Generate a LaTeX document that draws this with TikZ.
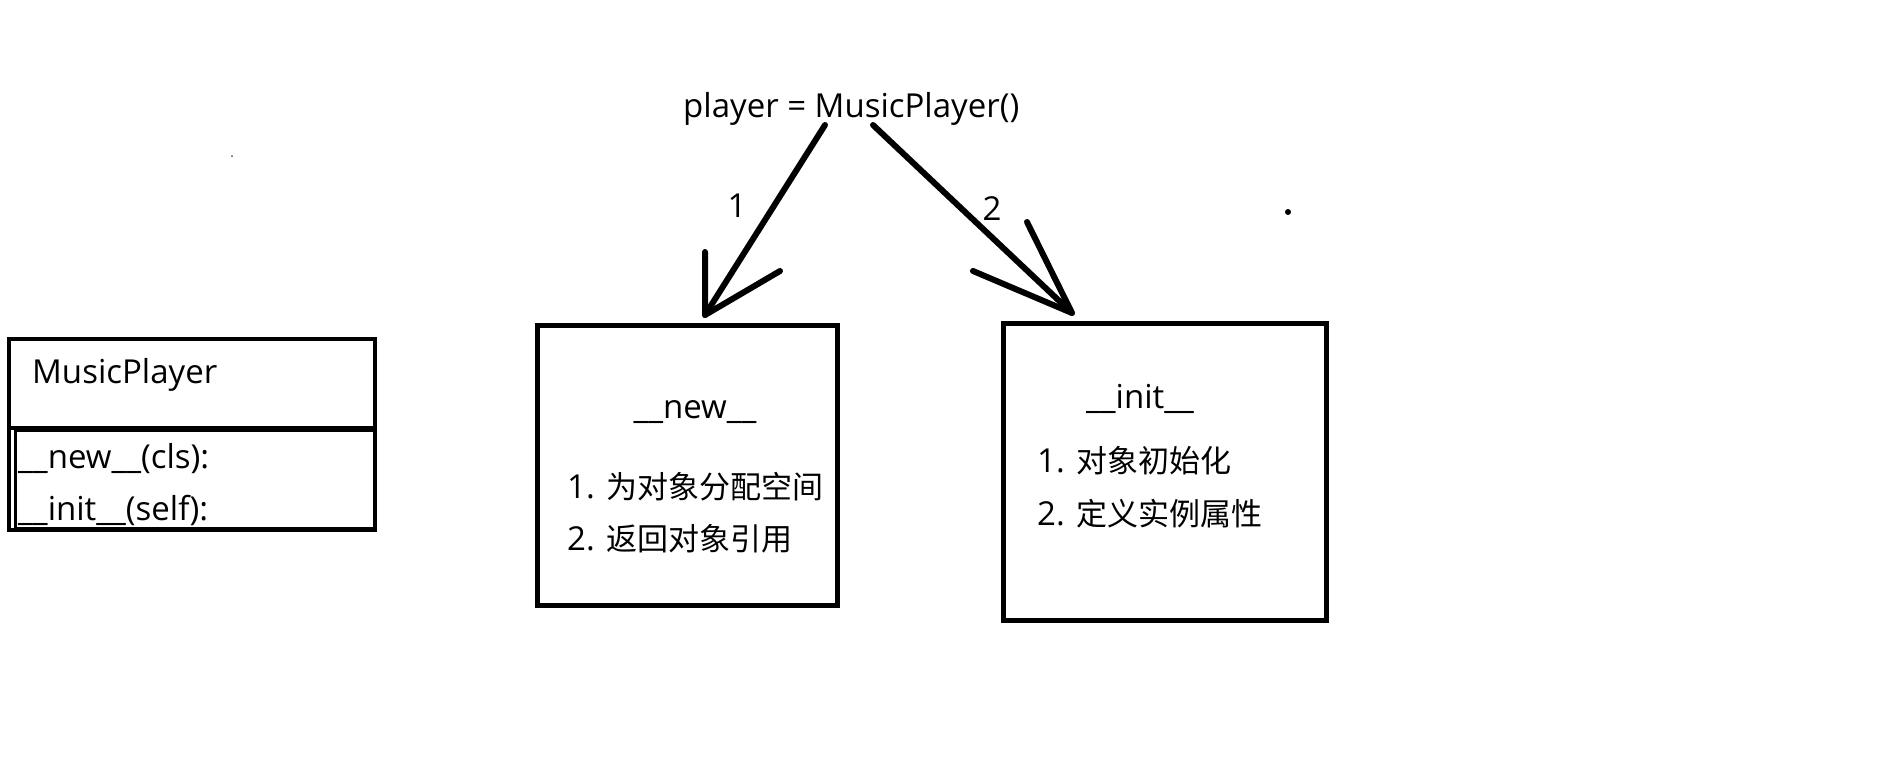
\documentclass[tikz,border=0pt]{standalone}
\usepackage{fontspec}
\setmainfont{Open Sans}
\newfontfamily\cjk{Noto Sans CJK SC}
\newcommand\zh[1]{{\cjk\fontsize{31}{40}\selectfont #1}}
\tikzset{
	txt/.style={inner sep=0pt, anchor=base west, font=\fontsize{33}{40}\selectfont},
	frame/.style={line width=5pt},
	hand/.style={line width=6pt, line cap=round, line join=round}
}
\begin{document}
\begin{tikzpicture}[x=1pt, y=-1pt]
	\useasboundingbox[fill=white] (0,0) rectangle (1887,782);
	% call at the top
	\node[txt] (call) at (683,117) {player = MusicPlayer()};
	% class box on the left
	\draw[line width=4pt] (9,339) coordinate (clsA) rectangle (375,530) coordinate (clsB);
	\draw[line width=4pt] (9,428) -- (375,428);
	\draw[line width=3pt] (15,430) rectangle (375,528);
	\node[txt] (cls) at (32,383) {MusicPlayer};
	\node[txt] (mnew) at (18,468) {\_\_new\_\_(cls):};
	\node[txt] (minit) at (18,520) {\_\_init\_\_(self):};
	% the two steps
	\draw[frame] (537,325) rectangle (837,605);
	\node[txt, anchor=base] (new) at (695,418) {\_\_new\_\_};
	\node[txt] (new1) at (567,498) {1. \zh{为对象分配空间}};
	\node[txt] (new2) at (567,550) {2. \zh{返回对象引用}};
	\draw[frame] (1003,323) rectangle (1326,620);
	\node[txt, anchor=base] (init) at (1140,408) {\_\_init\_\_};
	\node[txt] (init1) at (1037,472) {1. \zh{对象初始化}};
	\node[txt] (init2) at (1037,525) {2. \zh{定义实例属性}};
	% arrows drawn by hand
	\coordinate (s1) at (825,125);
	\coordinate (t1) at (705,315);
	\coordinate (s2) at (873,125);
	\coordinate (t2) at (1072,313);
	\draw[hand] (s1) -- (t1);
	\draw[hand] (705,252) -- (t1) -- (780,271);
	\node[txt, anchor=base] (one) at (737,217) {1};
	\draw[hand] (s2) -- (t2);
	\draw[hand] (1027,222) -- (t2) -- (973,271);
	\node[txt, anchor=base] (two) at (992,220) {2};
	% stray dots
	\fill (1288,212) circle (3);
	\fill[black!70] (232,156) circle (1);
\end{tikzpicture}
\end{document}
